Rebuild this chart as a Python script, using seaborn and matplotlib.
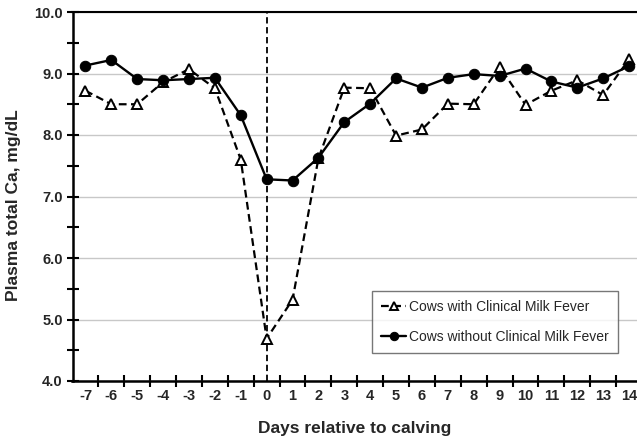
import matplotlib
matplotlib.use("Agg")
import matplotlib.pyplot as plt
import seaborn as sns
import pandas as pd
from matplotlib.ticker import MultipleLocator, FixedLocator

days = list(range(-7, 15))
with_fever = [8.72, 8.50, 8.50, 8.86, 9.07, 8.76, 7.60, 4.69, 5.32, 7.62, 8.77,
              8.76, 7.99, 8.09, 8.51, 8.50, 9.11, 8.49, 8.72, 8.89, 8.65, 9.23]
without_fever = [9.13, 9.22, 8.91, 8.89, 8.91, 8.93, 8.32, 7.28, 7.26, 7.63, 8.21,
                 8.51, 8.92, 8.77, 8.93, 8.99, 8.96, 9.08, 8.87, 8.77, 8.92, 9.12]
label_with = "Cows with Clinical Milk Fever"
label_without = "Cows without Clinical Milk Fever"

sns.set_theme(style="white")
plt.rcParams["font.family"] = ["Liberation Sans", "DejaVu Sans"]

df = pd.DataFrame({"day": days, "with": with_fever, "without": without_fever})

fig = plt.figure(figsize=(6.37, 4.38), dpi=100)
ax = fig.add_axes([72.5 / 637, 1 - 381 / 438, (642 - 72.5) / 637, (381 - 12) / 438])

# reference line at calving
ax.axvline(0, color="black", lw=1.3, ls=(0, (3.5, 2)), zorder=1)

sns.lineplot(data=df, x="day", y="with", ax=ax, color="black", lw=1.6,
             linestyle=(0, (3.5, 2)), marker="^", markersize=7.5,
             markerfacecolor="white", markeredgecolor="black", markeredgewidth=1.4,
             label=label_with, zorder=3)
sns.lineplot(data=df, x="day", y="without", ax=ax, color="black", lw=1.7,
             marker="o", markersize=7.5, markerfacecolor="black",
             markeredgecolor="black", label=label_without, zorder=4)

ax.set_xlim(-7.5, 14.5)
ax.set_ylim(4.0, 10.0)

ax.yaxis.set_major_locator(MultipleLocator(1.0))
ax.yaxis.set_minor_locator(MultipleLocator(0.5))
ax.set_yticklabels([f"{v:.1f}" for v in ax.get_yticks()])

# category-style x axis: ticks between days, labels centred on days
ax.xaxis.set_major_locator(FixedLocator([d + 0.5 for d in days[:-1]]))
ax.xaxis.set_minor_locator(FixedLocator(days))
ax.set_xticklabels([])
ax.set_xticklabels([str(d) for d in days], minor=True)

ax.tick_params(axis="x", which="major", direction="inout", length=8, width=1.5,
               color="black", bottom=True)
ax.tick_params(axis="x", which="minor", length=0, labelsize=10.5, pad=6,
               bottom=True, labelbottom=True)
ax.tick_params(axis="y", which="both", direction="inout", length=8, width=1.5,
               color="black", labelsize=10.5, left=True, pad=3)
for lab in ax.get_xticklabels(minor=True) + ax.get_yticklabels():
    lab.set_fontweight("bold")

ax.grid(axis="y", which="major", color="#c8c8c8", lw=1.0)
ax.set_axisbelow(True)

for side in ["left", "bottom"]:
    ax.spines[side].set_color("black")
    ax.spines[side].set_linewidth(1.8)
ax.spines["top"].set_color("black")
ax.spines["top"].set_linewidth(1.5)
ax.spines["right"].set_visible(False)

ax.set_xlabel("Days relative to calving", fontsize=12.5, fontweight="bold")
ax.set_ylabel("Plasma total Ca, mg/dL", fontsize=12.5, fontweight="bold")
ax.xaxis.set_label_coords(355 / 637, 1 - 428 / 438, transform=fig.transFigure)
ax.yaxis.set_label_coords(14 / 637, 1 - 205 / 438, transform=fig.transFigure)
ax.xaxis.label.set_va("center")
ax.yaxis.label.set_va("center")

leg = ax.legend(loc="upper left", bbox_to_anchor=(372 / 637, 1 - 291 / 438),
                bbox_transform=fig.transFigure, frameon=True, fancybox=False,
                edgecolor="#555555", fontsize=10, handlelength=1.8,
                labelspacing=1.15, borderpad=0.65, handletextpad=0.2,
                borderaxespad=0)
leg.get_frame().set_linewidth(1.0)
for h in leg.legend_handles:
    h.set_markersize(6)

fig.savefig("out.png", dpi=100)
